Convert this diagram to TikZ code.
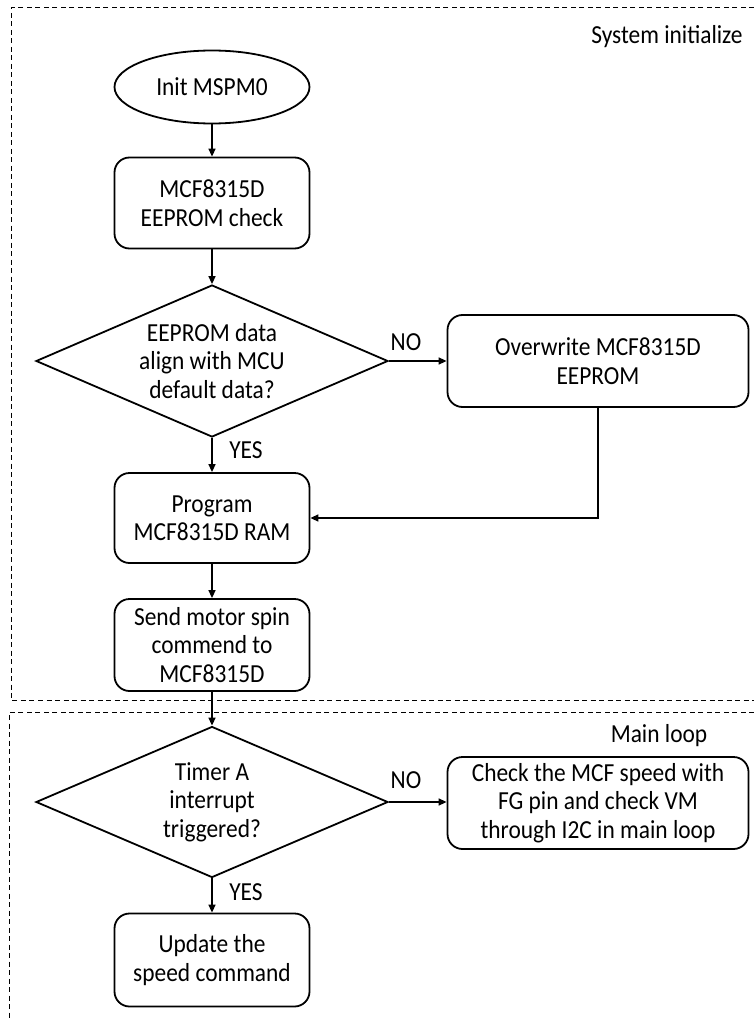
\documentclass[tikz,border=0pt]{standalone}
\usepackage{fontspec}
\setmainfont{Carlito}[FakeStretch=0.9]
\usetikzlibrary{shapes.geometric}
\usetikzlibrary{arrows.meta}

\begin{document}
\begin{tikzpicture}[x=1pt, y=-1pt,
    every node/.style={font=\fontsize{26}{28.5}\selectfont},
    block/.style={draw, line width=1.8pt, rounded corners=15pt, align=center, inner sep=0pt, minimum width=195pt, minimum height=91pt},
    wideblock/.style={block, minimum width=301pt, minimum height=92pt},
    decision/.style={draw, diamond, line width=1.8pt, align=center, inner sep=0pt, shape aspect=2.3, minimum width=352pt, minimum height=152pt},
    startstop/.style={draw, ellipse, line width=1.8pt, inner sep=0pt, minimum width=195pt, minimum height=73pt},
    flow/.style={-{Triangle[length=8pt,width=7pt]}, line width=1.5pt},
    frame/.style={line width=1pt, dash pattern=on 5pt off 3.5pt}]
    \useasboundingbox (0,0) rectangle (754,1019);
    % draw the dashed frames
    \draw[frame] (754,8) -| (11,700) -- (754,700);
    \draw[frame] (754,712) -| (9,1019);
    \node (sysinit) at (667,37) {System initialize};
    \node (mainloop) at (659,736) {Main loop};
    % system initialize steps
    \node[startstop] (init) at (212,87) {Init MSPM0};
    \node[block] (check) at (212,203) {MCF8315D\\EEPROM check};
    \node[decision] (align) at (212,361) {EEPROM data\\align with MCU\\default data?};
    \node[wideblock] (overwrite) at (598,361) {Overwrite MCF8315D\\EEPROM};
    \node[block, minimum height=90pt] (program) at (212,518) {Program\\MCF8315D RAM};
    \node[block, minimum height=92pt] (send) at (212,645) {Send motor spin\\commend to\\MCF8315D};
    % main loop steps
    \node[decision, minimum height=151pt] (timer) at (212,802) {Timer A\\interrupt\\triggered?};
    \node[wideblock] (speed) at (598,803) {Check the MCF speed with\\FG pin and check VM\\through I2C in main loop};
    \node[block, minimum height=93pt] (update) at (212,960) {Update the\\speed command};
    % draw the connectors
    \draw[flow] (init) -- (check);
    \draw[flow] (check) -- (align);
    \draw[flow] (align) -- (overwrite);
    \draw[flow] (align) -- (program);
    \draw[flow] (overwrite.south) |- (program.east);
    \draw[flow] (program) -- (send);
    \draw[flow] (send) -- (timer);
    \draw[flow] (timer.east) -- (speed.west |- timer.east);
    \draw[flow] (timer) -- (update);
    % add labels
    \node (no1) at (406,342) {NO};
    \node (yes1) at (246,450) {YES};
    \node (no2) at (406,780) {NO};
    \node (yes2) at (246,892) {YES};
\end{tikzpicture}
\end{document}
